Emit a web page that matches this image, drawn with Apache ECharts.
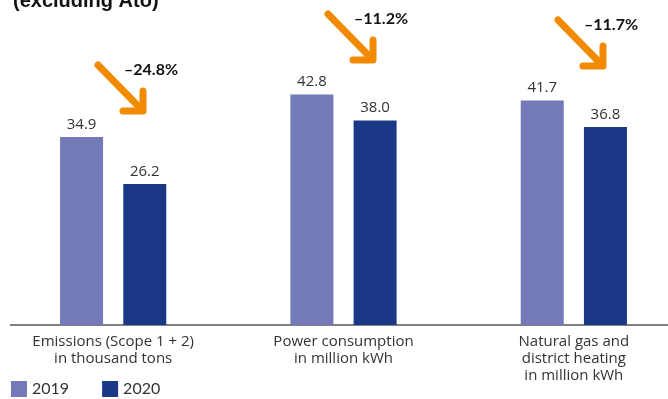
<!DOCTYPE html>
<html>
<head>
<meta charset="utf-8">
<script src="https://cdn.jsdelivr.net/npm/echarts@6/dist/echarts.min.js"></script>
<style>
  html, body { margin: 0; padding: 0; background: #fff; }
  #chart { width: 668px; height: 399px; }
</style>
</head>
<body>
<div id="chart"></div>
<script>
'use strict';
var categories = [
  'Emissions (Scope 1 + 2)\nin thousand tons',
  'Power consumption\nin million kWh',
  'Natural gas and\ndistrict heating\nin million kWh'
];
var values2019 = [34.9, 42.8, 41.7];
var values2020 = [26.2, 38.0, 36.8];
var changes = ['\u201324.8%', '\u201311.2%', '\u201311.7%'];

var FONT = '"Open Sans", sans-serif';
var BOLD_FONT = 'Lato, "Open Sans", sans-serif';
var TITLE_FONT = '"Liberation Sans", "Open Sans", sans-serif';
var C2019 = '#7479b8';
var C2020 = '#1b3886';
var ORANGE = '#f18a00';

var myChart = echarts.init(document.getElementById('chart'));
var option = {
  animation: false,
  title: {
    text: '(excluding Ato)',
    left: 8,
    top: -14,
    textStyle: { fontFamily: TITLE_FONT, fontSize: 20, fontWeight: 'bold', color: '#111' }
  },
  legend: {
    left: 11,
    bottom: 2,
    padding: 0,
    itemWidth: 16,
    itemHeight: 16,
    itemGap: 33,
    icon: 'rect',
    textStyle: { fontFamily: BOLD_FONT, fontSize: 16, color: '#333' },
    data: ['2019', '2020']
  },
  grid: {
    left: -2,
    width: 691,
    top: 2,
    bottom: 74,
    outerBoundsMode: 'none',
    containLabel: false
  },
  xAxis: {
    type: 'category',
    data: categories,
    axisLine: { show: false },
    axisTick: { show: false },
    axisLabel: {
      fontFamily: FONT,
      fontSize: 15,
      color: '#333',
      lineHeight: 17,
      margin: 8
    }
  },
  yAxis: {
    type: 'value',
    min: 0,
    max: 60,
    show: false
  },
  series: [
    {
      name: '2019',
      type: 'bar',
      data: values2019,
      barWidth: 43,
      barGap: '47%',
      itemStyle: { color: C2019 },
      label: {
        show: true, position: 'top', distance: 5,
        fontFamily: FONT, fontSize: 15, color: '#333',
        formatter: function (p) { return p.value.toFixed(1); }
      }
    },
    {
      name: '2020',
      type: 'bar',
      data: values2020,
      barWidth: 43,
      itemStyle: { color: C2020 },
      label: {
        show: true, position: 'top', distance: 5,
        fontFamily: FONT, fontSize: 15, color: '#333',
        formatter: function (p) { return p.value.toFixed(1); }
      }
    }
  ]
};
myChart.setOption(option);

// axis base line and change arrows
var base = myChart.convertToPixel({ gridIndex: 0 }, [0, 0]);
var tips = [[143, 111], [373, 60], [603, 66]];
var graphics = [{
  type: 'line',
  shape: { x1: 10, y1: base[1], x2: 668, y2: base[1] },
  style: { stroke: '#808080', lineWidth: 2 }
}];
tips.forEach(function (t, i) {
  var tx = t[0], ty = t[1];
  var arrowStyle = { stroke: ORANGE, lineWidth: 7, lineCap: 'round', lineJoin: 'round', fill: null };
  graphics.push({
    type: 'line',
    shape: { x1: tx - 45, y1: ty - 46, x2: tx - 2, y2: ty - 2 },
    style: arrowStyle
  });
  graphics.push({
    type: 'polyline',
    shape: { points: [[tx, ty - 20], [tx, ty], [tx - 20, ty]] },
    style: arrowStyle
  });
  graphics.push({
    type: 'text',
    x: tx - 19,
    y: ty - 41,
    style: {
      text: changes[i],
      fontFamily: BOLD_FONT, fontSize: 16, fontWeight: 'bold', fill: '#111',
      textVerticalAlign: 'middle'
    }
  });
});
myChart.setOption({ graphic: graphics });
</script>
</body>
</html>
